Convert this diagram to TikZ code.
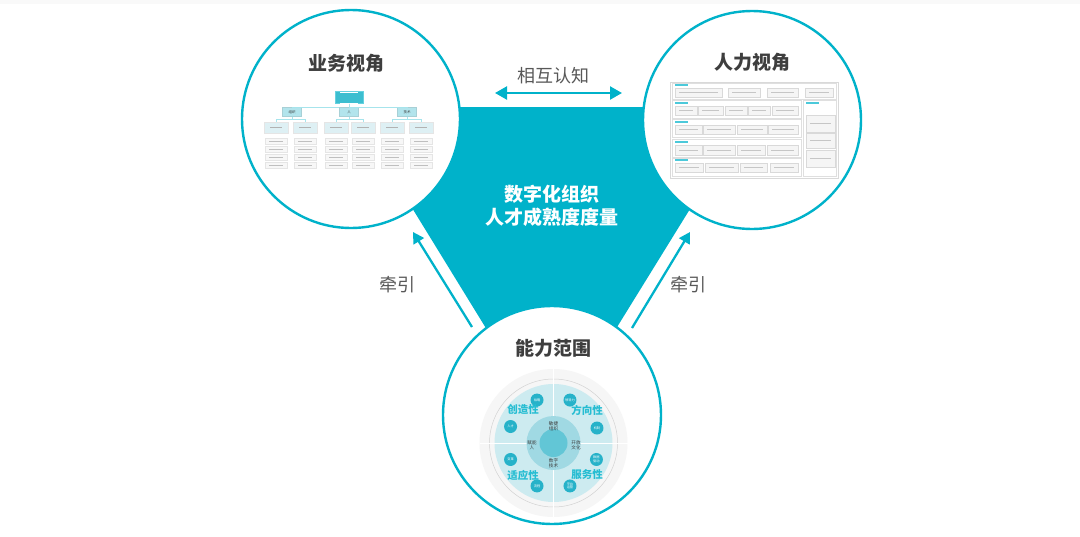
\documentclass[tikz,border=0pt]{standalone}
\usepackage{fontspec}
\setmainfont{Noto Sans CJK SC}
\usetikzlibrary{arrows.meta}
\definecolor{cyanmain}{RGB}{0,178,202}
\definecolor{titlegray}{RGB}{62,62,62}
\definecolor{notegray}{RGB}{88,88,88}
\definecolor{paleteal}{RGB}{205,235,240}
\definecolor{midteal}{RGB}{160,217,227}
\definecolor{deepteal}{RGB}{98,198,214}
\definecolor{dotteal}{RGB}{38,178,201}
\definecolor{orgtopc}{RGB}{60,190,208}
\definecolor{orglvc}{RGB}{178,228,236}
\definecolor{orgsubc}{RGB}{222,240,244}
\tikzset{
  view/.style={circle, draw=cyanmain, line width=2.4pt, fill=white, minimum size=218pt, inner sep=0pt},
  title/.style={font=\fontsize{19}{19}\selectfont\bfseries, text=titlegray},
  note/.style={font=\fontsize{18}{18}\selectfont, text=notegray},
  core/.style={font=\fontsize{19}{23}\selectfont\bfseries, text=white, align=center},
  link/.style={draw=cyanmain, line width=2.3pt, -{Triangle[length=11pt,width=12pt]}},
  mutual/.style={draw=cyanmain, line width=2.3pt, {Triangle[length=12pt,width=13pt]}-{Triangle[length=12pt,width=13pt]}},
  orgtop/.style={draw=cyanmain!60, fill=orgtopc, minimum width=28pt, minimum height=11pt, inner sep=0pt, align=center},
  orglv/.style={fill=orglvc, draw=orglvc!80!gray, minimum width=19pt, minimum height=9pt, inner sep=0pt, font=\fontsize{3.5}{4}\selectfont, text=titlegray},
  orgsub/.style={fill=orgsubc, draw=gray!20, minimum width=24pt, minimum height=11pt, inner sep=0pt},
  orgleaf/.style={fill=gray!6, draw=gray!20, minimum width=22pt, minimum height=6pt, inner sep=0pt},
  orgline/.style={draw=cyanmain!35, line width=0.5pt},
  cellbox/.style={fill=gray!8, draw=gray!30, line width=0.3pt},
  dot/.style={circle, fill=dotteal, minimum size=13pt, inner sep=0pt, font=\fontsize{3.2}{3.6}\selectfont, text=white, align=center},
  quad/.style={font=\fontsize{10.5}{10.5}\selectfont\bfseries, text=cyanmain!85},
  ring/.style={font=\fontsize{4.6}{5.5}\selectfont, text=titlegray, align=center}
}
\begin{document}
\begin{tikzpicture}[x=1pt, y=-1pt]
  \useasboundingbox (0,0) rectangle (1080,536);
  \fill[gray!5] (0,0) rectangle (1080,4);
  % Core triangle
  \fill[cyanmain] (350,107) -- (753,107) -- (551,434) -- cycle;
  \node[core] (core) at (552,206) {数字化组织\\人才成熟度度量};
  % Arrows
  \coordinate (knowL) at (495,93);
  \coordinate (knowR) at (622,93);
  \draw[mutual] (knowL) -- (knowR);
  \node[note] (know) at (553,76) {相互认知};
  \coordinate (pullLs) at (472,327);
  \coordinate (pullLe) at (413,232);
  \coordinate (pullRs) at (632,328);
  \coordinate (pullRe) at (690,232);
  \draw[link] (pullLs) -- (pullLe);
  \draw[link] (pullRs) -- (pullRe);
  \node[note] (pullL) at (397,285) {牵引};
  \node[note] (pullR) at (688,285) {牵引};
  % Views
  \node[view] (biz) at (351,119) {};
  \node[view] (hr) at (752,120) {};
  \node[view] (cap) at (552,415) {};
  \node[title] (biztitle) at (346,63) {业务视角};
  \node[title] (hrtitle) at (752,62) {人力视角};
  \node[title] (captitle) at (553,348) {能力范围};
  % Business view: org chart
  \node[orgtop] (org) at (349,97.5) {\textcolor{white}{\rule{18pt}{0.8pt}}\\[-1pt]\textcolor{white}{\rule{18pt}{0.8pt}}};
  \foreach \n/\x/\t in {o1/292/组织, o2/349/人, o3/407/技术} {
    \node[orglv] (\n) at (\x,112) {\t};
    \draw[orgline] (org.south) -- ++(0,3.5) -| (\n.north);
  }
  \foreach \i/\x/\p in {1/276/o1, 2/305/o1, 3/336/o2, 4/363/o2, 5/392/o3, 6/421/o3} {
    \node[orgsub] (s\i) at (\x,127.5) {\textcolor{gray!60}{\rule{12pt}{0.6pt}}};
    \draw[orgline] (\p.south) -- ++(0,2.5) -| (s\i.north);
    \foreach \y in {141,149,157,165}
      \node[orgleaf] (l\i\y) at (\x,\y) {\textcolor{gray!50}{\rule{14pt}{0.5pt}}};
  }
  % HR view: table
  \draw[gray!30, line width=0.4pt] (670,82) rectangle (838,178);
  \foreach \a/\b/\c/\d in {672/83/836/99, 672/100/801/118, 672/119/801/137,
                           672/139/801/157, 672/158/801/176, 803/100/836/176}
    \draw[gray!25, fill=white, line width=0.3pt] (\a,\b) rectangle (\c,\d);
  \foreach \x/\y in {675/85, 675/103, 675/122, 675/142, 675/160, 806/103}
    \fill[cyanmain!70] (\x,\y-0.6) rectangle (\x+13,\y+0.6);
  \foreach \a/\b/\t/\u in {
    675/722/88/97, 728/760/88/97, 767/798/88/97, 805/833/88/97,
    675/697/106/115, 698/723/106/115, 725/747/106/115, 748/770/106/115, 772/798/106/115,
    675/702/125/134, 703/735/125/134, 737/767/125/134, 768/798/125/134,
    675/702/145/155, 703/735/145/155, 737/765/145/155, 767/798/145/155,
    675/703/163/172, 705/738/163/172, 740/767/163/172, 770/798/163/172,
    806/835/115/132, 806/835/133/148, 806/835/150/167} {
    \draw[cellbox] (\a,\t) rectangle (\b,\u);
    \fill[gray!45] (\a+4,{(\t+\u)/2-0.4}) rectangle (\b-4,{(\t+\u)/2+0.4});
  }
  % Capability view: wheel
  \begin{scope}[shift={(553.5,443)}]
    \fill[gray!7] (0,0) circle (74pt);
    \draw[gray!35, line width=0.5pt] (0,0) circle (64pt);
    \fill[paleteal] (0,0) circle (59pt);
    \draw[white, line width=0.6pt] (-74,0) -- (74,0) (0,-74) -- (0,74);
    \fill[midteal] (0,0) circle (27pt);
    \fill[deepteal] (0,0) circle (14pt);
    \foreach \n/\a/\t in {d1/-111/战略, d2/-69/领导力, d3/-19/机制, d4/21/数据\\驱动,
                          d5/69/平台\\运营, d6/111/流程, d7/159/变革, d8/-159/人才}
      \node[dot] (\n) at (\a:46) {\t};
    \node[quad] (q1) at (-30.5,-33) {创造性};
    \node[quad] (q2) at (33.5,-33) {方向性};
    \node[quad] (q3) at (-30.5,32) {适应性};
    \node[quad] (q4) at (33.5,32) {服务性};
    \node[ring] (r1) at (0,-17) {敏捷\\组织};
    \node[ring] (r2) at (-21.5,2) {赋能\\人};
    \node[ring] (r3) at (22.5,2) {开放\\文化};
    \node[ring] (r4) at (0,20) {数字\\技术};
  \end{scope}
\end{tikzpicture}
\end{document}
